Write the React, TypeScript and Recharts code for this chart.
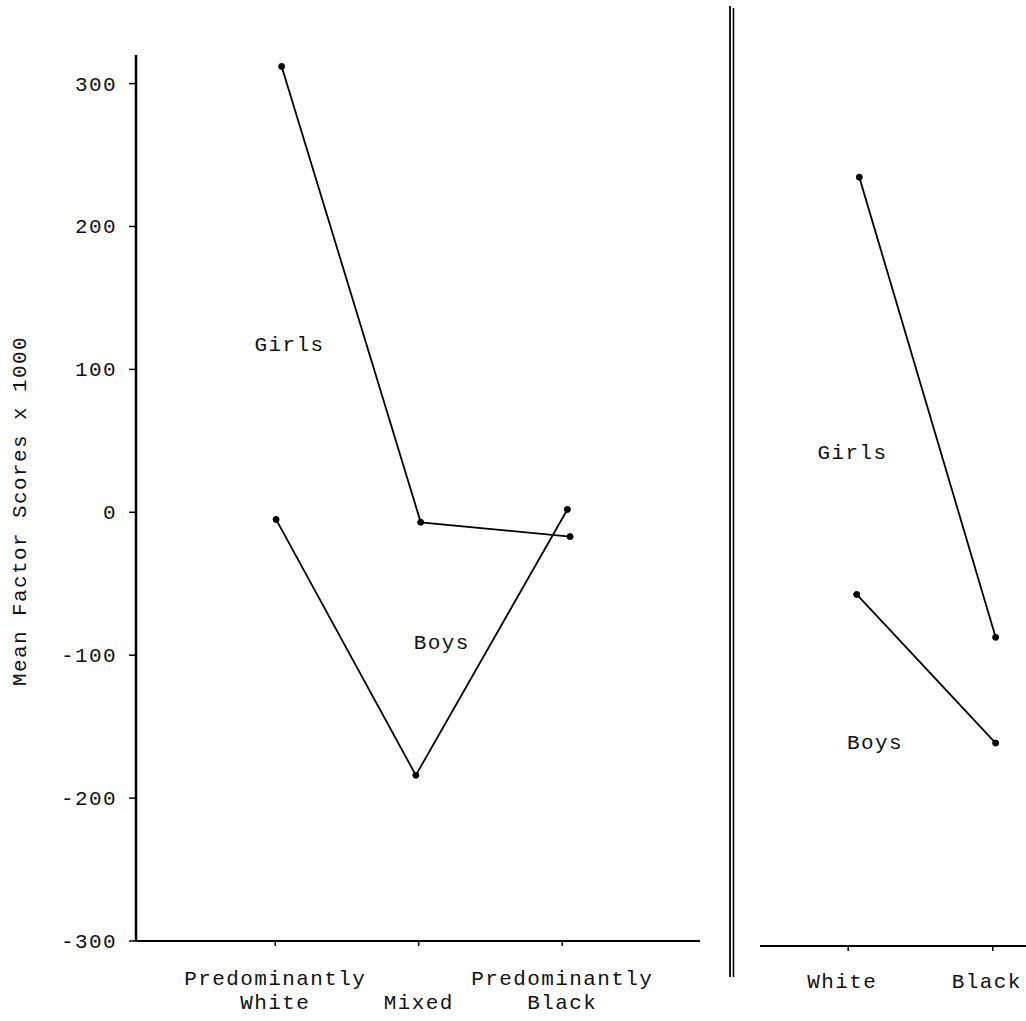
import React from 'react';
import { LineChart, Line, XAxis, YAxis, ReferenceDot } from 'recharts';

// ---- data ----
const yTicks = [-300, -200, -100, 0, 100, 200, 300];

const leftTickValues = [1, 2, 3];
const leftTickLabels = [['Predominantly', 'White'], ['', 'Mixed'], ['Predominantly', 'Black']];

const rightTickValues = [1, 2];
const rightTickLabels = ['White', 'Black'];

const leftGirlsX = [1.045, 2.014, 3.055];
const leftGirlsY = [312, -7, -17];
const leftBoysX = [1.006, 1.98, 3.036];
const leftBoysY = [-5, -184, 2];

const rightGirlsX = [1.077, 2.02];
const rightGirlsY = [238, -84];
const rightBoysX = [1.059, 2.02];
const rightBoysY = [-54, -158];

const seriesLabels = ['Girls', 'Boys'];
const leftLabelPos = [{ x: 1.1, y: 118 }, { x: 2.16, y: -91 }];
const rightLabelPos = [{ x: 1.03, y: 46 }, { x: 1.185, y: -157 }];

const yAxisTitle = 'Mean Factor Scores x 1000';

const zip = (xs: number[], ys: number[]) => xs.map((x, i) => ({ x, y: ys[i] }));

const FONT = '"Liberation Mono", "DejaVu Sans Mono", monospace';
const textStyle = { fontFamily: FONT, fontSize: 21, letterSpacing: 1.4, fill: '#111' };

const LeftTick = (props: any) => {
  const { x, y, payload } = props;
  const idx = leftTickValues.indexOf(payload.value);
  const lines = leftTickLabels[idx] || ['', ''];
  return (
    <g>
      <text x={x} y={y + 39} textAnchor="middle" style={textStyle}>{lines[0]}</text>
      <text x={x} y={y + 63} textAnchor="middle" style={textStyle}>{lines[1]}</text>
    </g>
  );
};

const RightTick = (props: any) => {
  const { x, y, payload } = props;
  const idx = rightTickValues.indexOf(payload.value);
  return (
    <text x={x - 6} y={y + 37} textAnchor="middle" style={textStyle}>{rightTickLabels[idx]}</text>
  );
};

const YTick = (props: any) => {
  const { x, y, payload } = props;
  return (
    <text x={x} y={y + 7} textAnchor="end" style={textStyle}>{payload.value}</text>
  );
};

const labelShape = (text: string) => (p: any) => (
  <text x={p.cx} y={p.cy + 7} textAnchor="middle" style={textStyle}>{text}</text>
);

const dotStyle = { r: 3, fill: '#000', stroke: '#000', strokeWidth: 1 };

export default function App() {
  return (
    <div style={{ position: 'absolute', left: 0, top: 0, width: 1026, height: 1021, background: '#fff', overflow: 'hidden' }}>
      <div style={{ position: 'absolute', left: 0, top: 0 }}>
        <LineChart width={720} height={1021} margin={{ top: 55, right: 20, bottom: 0, left: 0 }}>
          <XAxis
            type="number"
            dataKey="x"
            domain={[0.03, 3.96]}
            ticks={leftTickValues}
            allowDataOverflow
            height={80}
            stroke="#000"
            strokeWidth={2}
            tickSize={5}
            tickMargin={0}
            tick={<LeftTick />}
            tickLine={{ stroke: '#000', strokeWidth: 1.5 }}
          />
          <YAxis
            type="number"
            dataKey="y"
            domain={[-300, 320]}
            ticks={yTicks}
            allowDataOverflow
            width={136}
            stroke="#000"
            strokeWidth={2.5}
            tickSize={7}
            tickMargin={12}
            tick={<YTick />}
            tickLine={{ stroke: '#000', strokeWidth: 1.5 }}
          />
          <Line data={zip(leftGirlsX, leftGirlsY)} dataKey="y" stroke="#000" strokeWidth={1.8} dot={dotStyle} isAnimationActive={false} />
          <Line data={zip(leftBoysX, leftBoysY)} dataKey="y" stroke="#000" strokeWidth={1.8} dot={dotStyle} isAnimationActive={false} />
          {leftLabelPos.map((p, i) => (
            <ReferenceDot key={i} x={p.x} y={p.y} r={1} shape={labelShape(seriesLabels[i])} />
          ))}
        </LineChart>
      </div>
      <div style={{ position: 'absolute', left: 740, top: 5 }}>
        <LineChart width={286} height={1016} margin={{ top: 55, right: 0, bottom: 0, left: 20 }}>
          <XAxis
            type="number"
            dataKey="x"
            domain={[0.39, 2.23]}
            ticks={rightTickValues}
            allowDataOverflow
            height={75}
            stroke="#000"
            strokeWidth={2}
            tickSize={5}
            tickMargin={0}
            tick={<RightTick />}
            tickLine={{ stroke: '#000', strokeWidth: 1.5 }}
          />
          <YAxis type="number" dataKey="y" domain={[-300, 320]} allowDataOverflow hide />
          <Line data={zip(rightGirlsX, rightGirlsY)} dataKey="y" stroke="#000" strokeWidth={1.8} dot={dotStyle} isAnimationActive={false} />
          <Line data={zip(rightBoysX, rightBoysY)} dataKey="y" stroke="#000" strokeWidth={1.8} dot={dotStyle} isAnimationActive={false} />
          {rightLabelPos.map((p, i) => (
            <ReferenceDot key={i} x={p.x} y={p.y} r={1} shape={labelShape(seriesLabels[i])} />
          ))}
        </LineChart>
      </div>
      <svg width={1026} height={1021} style={{ position: 'absolute', left: 0, top: 0, pointerEvents: 'none' }}>
        <line x1={730} y1={6} x2={730} y2={977} stroke="#000" strokeWidth={1.8} />
        <line x1={733.5} y1={8} x2={733.5} y2={977} stroke="#000" strokeWidth={1.5} />
        <text
          x={0}
          y={0}
          transform="translate(26,511) rotate(-90)"
          textAnchor="middle"
          style={textStyle}
        >
          {yAxisTitle}
        </text>
      </svg>
    </div>
  );
}
